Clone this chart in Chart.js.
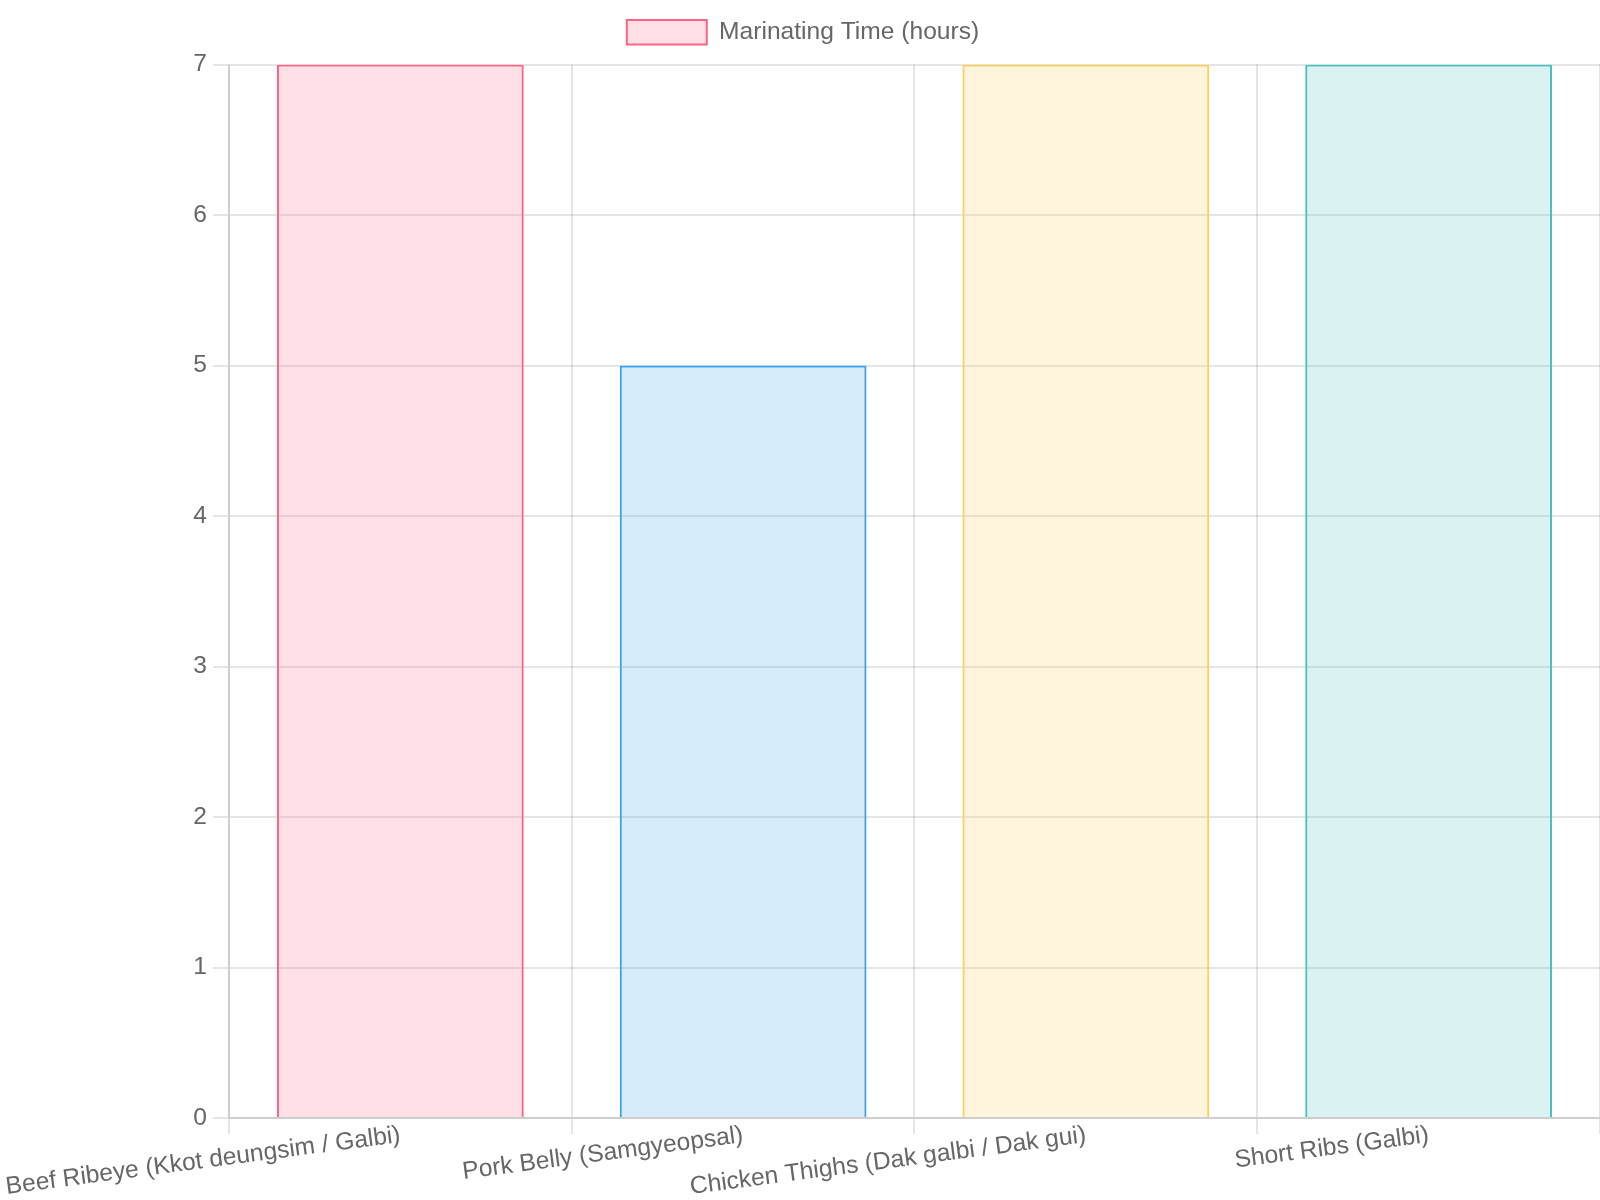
<!DOCTYPE html>
<html lang="en">
<head>
    <meta charset="UTF-8">
    <title>Marinating Time</title>
    <script src="https://cdn.jsdelivr.net/npm/chart.js"></script>
    <style>
        html, body { margin: 0; background: #fff; width: 1600px; height: 1200px; overflow: hidden; }
        /* drawn as an 800x600 chart with a 2x backing store, shown at 2x */
        #marinadeChart { transform: scale(2); transform-origin: 0 0; }
    </style>
</head>
<body>
    <canvas id="marinadeChart" width="800" height="600"></canvas>

    <script>
        const cuts = [
            'Beef Ribeye (Kkot deungsim / Galbi)',
            'Pork Belly (Samgyeopsal)',
            'Chicken Thighs (Dak galbi / Dak gui)',
            'Short Ribs (Galbi)'
        ];
        const hours = [7, 5, 7, 7];
        const fillColors = [
            'rgba(255, 99, 132, 0.2)',
            'rgba(54, 162, 235, 0.2)',
            'rgba(255, 206, 86, 0.2)',
            'rgba(75, 192, 192, 0.2)'
        ];
        const lineColors = [
            'rgba(255, 99, 132, 1)',
            'rgba(54, 162, 235, 1)',
            'rgba(255, 206, 86, 1)',
            'rgba(75, 192, 192, 1)'
        ];

        Chart.defaults.font.family = '"Liberation Sans", Arial, sans-serif';
        Chart.defaults.font.size = 12.3;

        const ctx = document.getElementById('marinadeChart').getContext('2d');
        const marinadeChart = new Chart(ctx, {
            type: 'bar',
            data: {
                labels: cuts,
                datasets: [{
                    label: 'Marinating Time (hours)',
                    data: hours,
                    backgroundColor: fillColors,
                    borderColor: lineColors,
                    borderWidth: 1
                }]
            },
            options: {
                responsive: false,
                animation: false,
                devicePixelRatio: 2,
                layout: { padding: { left: 3 } },
                scales: {
                    x: {
                        // tight line height keeps the slanted labels right under the ticks
                        ticks: { minRotation: 7.5, maxRotation: 7.5, padding: 0, font: { lineHeight: 0.1 } },
                        afterFit: (scale) => { scale.height = 41; }
                    },
                    y: { beginAtZero: true, max: 7, ticks: { stepSize: 1 } }
                }
            }
        });
    </script>
</body>
</html>
